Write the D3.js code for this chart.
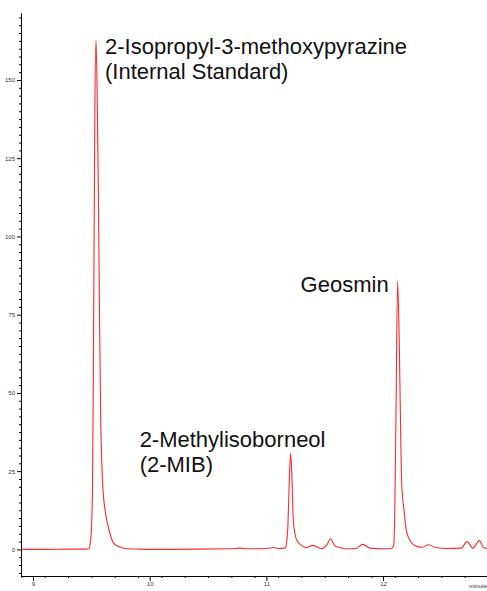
<!DOCTYPE html>
<html>
<head>
<meta charset="utf-8">
<script src="https://cdn.jsdelivr.net/npm/d3@7"></script>
<style>
  html, body { margin: 0; padding: 0; background: #fff; }
  svg { display: block; }
</style>
</head>
<body>
<svg id="chart" width="487" height="591"></svg>
<script>
// ---- data ----
const timeMin = [8.897, 9.10, 9.30, 9.45, 9.48, 9.49, 9.50, 9.51, 9.52, 9.53, 9.54, 9.55, 9.56, 9.57, 9.58, 9.59, 9.60, 9.62, 9.64, 9.66, 9.69, 9.73, 9.79, 9.90, 10.10, 10.40, 10.70, 10.77, 10.85, 11.00, 11.06, 11.10, 11.16, 11.17, 11.185, 11.195, 11.208, 11.22, 11.23, 11.245, 11.26, 11.30, 11.34, 11.40, 11.47, 11.52, 11.55, 11.59, 11.63, 11.67, 11.77, 11.825, 11.89, 12.00, 12.07, 12.09, 12.10, 12.11, 12.125, 12.14, 12.15, 12.16, 12.18, 12.20, 12.23, 12.27, 12.33, 12.39, 12.45, 12.55, 12.67, 12.72, 12.77, 12.825, 12.86, 12.891];
const signal  = [0.0, 0.0, 0.1, 0.1, 0.3, 2, 6, 20, 75, 140, 162.7, 145, 115, 75, 42, 27, 19, 12, 8, 5, 2, 1, 0.3, 0.1, 0.0, 0.1, 0.2, 0.4, 0.2, 0.3, 0.6, 0.3, 0.4, 1.5, 8, 20, 30.7, 22, 10, 5, 3, 1.3, 0.6, 1.3, 0.2, 1.5, 3.4, 1.0, 0.6, 0.2, 0.3, 1.6, 0.4, 0.2, 0.3, 1, 10, 40, 85.7, 64, 40, 21, 12.4, 6, 2.9, 1.3, 0.6, 1.5, 0.6, 0.3, 0.4, 2.5, 0.4, 2.8, 0.7, 0.3];

const yMajorTicks = [0, 25, 50, 75, 100, 125, 150];
const xMajorTicks = [9, 10, 11, 12];
const xTickLabels = ["9", "10", "11", "12"];

const peakNames = ["2-Isopropyl-3-methoxypyrazine|(Internal Standard)", "2-Methylisoborneol|(2-MIB)", "Geosmin"];
const peakTimes = [9.54, 11.208, 12.125];
const peakHeights = [162.7, 30.7, 85.7];
const xAxisTitle = "minutes";

// ---- drawing ----
const svg = d3.select("#chart");
const W = 487, H = 591;
const x = d3.scaleLinear().domain([8.897, 12.891]).range([21, 487]);
const y = d3.scaleLinear().domain([-8.5, 171.4]).range([576, 13]);

svg.append("rect").attr("width", W).attr("height", H).attr("fill", "#fff");

// chromatogram trace
const pts = timeMin.map((t, i) => [t, signal[i]]);
svg.append("path")
  .datum(pts)
  .attr("fill", "none")
  .attr("stroke", "#ff2a2a")
  .attr("stroke-width", 1.1)
  .attr("stroke-linejoin", "round")
  .attr("d", d3.line().x(d => x(d[0])).y(d => y(d[1])).curve(d3.curveMonotoneX));

// y axis
const yMinor = d3.range(-7.5, 171, 2.5).filter(v => Math.abs(v / 25 - Math.round(v / 25)) > 1e-6);
const yAxisG = svg.append("g").attr("transform", `translate(${x.range()[0]},0)`);
yAxisG.call(d3.axisLeft(y).tickValues(yMinor).tickSize(2).tickSizeOuter(0).tickFormat(""));
yAxisG.append("g").call(d3.axisLeft(y).tickValues(yMajorTicks).tickSize(4).tickSizeOuter(0).tickPadding(2));
yAxisG.selectAll("path.domain").attr("stroke", "#000");
yAxisG.selectAll("line").attr("stroke", "#000");
yAxisG.selectAll("text").attr("font-family", "Arial, 'Liberation Sans', sans-serif").attr("font-size", 6).attr("fill", "#333");

// x axis
const xMinor = d3.range(8.9, 12.9, 0.2).map(v => +v.toFixed(1)).filter(v => !xMajorTicks.includes(v));
const xAxisG = svg.append("g").attr("transform", `translate(0,${y.range()[0]})`);
xAxisG.call(d3.axisBottom(x).tickValues(xMinor).tickSize(2).tickSizeOuter(0).tickFormat(""));
xAxisG.append("g").call(d3.axisBottom(x).tickValues(xMajorTicks).tickSize(5).tickSizeOuter(0).tickPadding(1)
  .tickFormat((d, i) => xTickLabels[i]));
xAxisG.selectAll("path.domain").attr("stroke", "#000");
xAxisG.selectAll("line").attr("stroke", "#000");
xAxisG.selectAll("text").attr("font-family", "Arial, 'Liberation Sans', sans-serif").attr("font-size", 6).attr("fill", "#333");

svg.append("text")
  .attr("x", 469).attr("y", 588)
  .attr("font-family", "Arial, 'Liberation Sans', sans-serif").attr("font-size", 6).attr("fill", "#333")
  .text(xAxisTitle);

// peak labels
const labelFont = "Arial, 'Liberation Sans', sans-serif";
const labelSpec = [
  { dx: 9, dy: 14, anchor: "start" },
  { dx: -151, dy: -6, anchor: "start" },
  { dx: -9, dy: 11, anchor: "end" }
];
peakNames.forEach((name, i) => {
  const lines = name.split("|");
  const t = svg.append("text")
    .attr("font-family", labelFont)
    .attr("font-size", 22)
    .attr("fill", "#111")
    .attr("text-anchor", labelSpec[i].anchor);
  lines.forEach((ln, j) => {
    t.append("tspan")
      .attr("x", x(peakTimes[i]) + labelSpec[i].dx)
      .attr("y", y(peakHeights[i]) + labelSpec[i].dy + j * 25)
      .text(ln);
  });
});
</script>
</body>
</html>
